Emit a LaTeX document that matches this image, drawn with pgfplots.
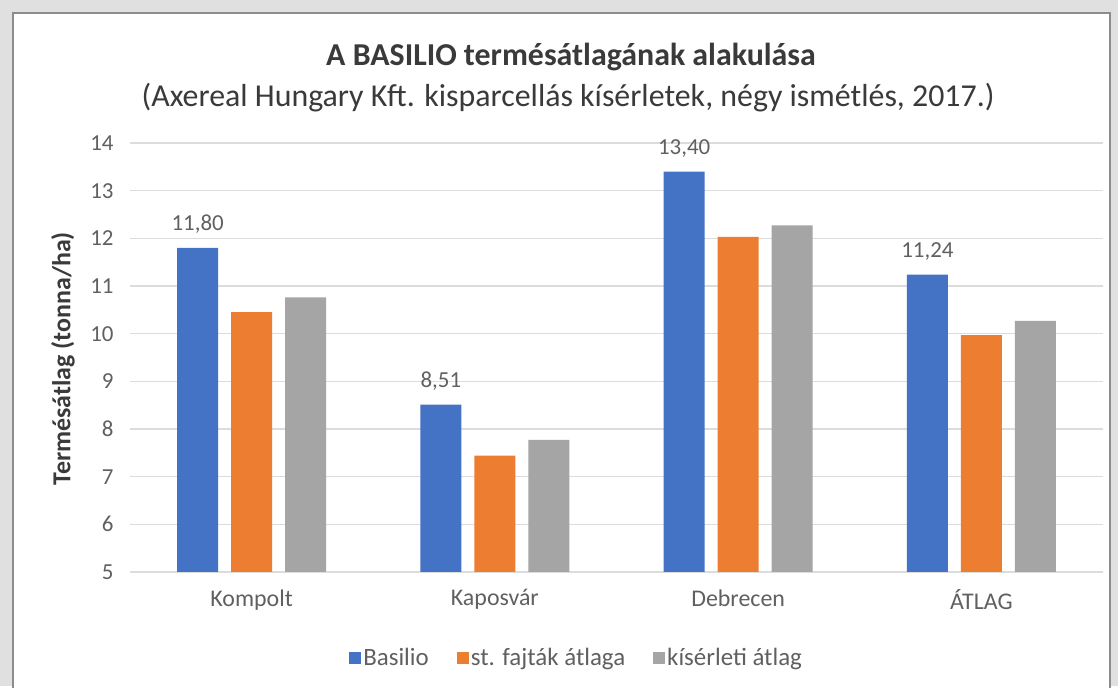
\documentclass[border=0pt]{standalone}
\usepackage{fontspec}
\setmainfont{Carlito}
\usepackage{pgfplots}
\pgfplotsset{compat=1.18}
\definecolor{cblue}{HTML}{4472C4}
\definecolor{corange}{HTML}{ED7D31}
\definecolor{cgray}{HTML}{A5A5A5}
\definecolor{ctext}{HTML}{606060}
\definecolor{ctitle}{HTML}{3A3A3A}
\definecolor{cgrid}{HTML}{DCDCDC}
\begin{document}
\begin{tikzpicture}[x=1bp,y=1bp]
\fill[black!12] (0,0) rectangle (1118,686);
\fill[white] (13,0) rectangle (1110,673);
\draw[black!45, line width=2.5bp] (13,-2) -- (13,673) -- (1110,673) -- (1110,-2);
\path[use as bounding box] (0,0) rectangle (1118,686);
\node[font=\fontsize{32}{36}\selectfont\bfseries, text=ctitle] at (571,629) {A BASILIO termésátlagának alakulása};
\node[font=\fontsize{32}{36}\selectfont, text=ctitle] at (568,588) {(Axereal Hungary Kft. kisparcellás kísérletek, négy ismétlés, 2017.)};
\begin{axis}[
  at={(130bp,114bp)}, anchor=south west,
  width=973bp, height=429bp, scale only axis,
  xmin=-0.5, xmax=3.5, ymin=5, ymax=14,
  ytick={5,6,...,14},
  xtick={0,1,2,3},
  xticklabels={Kompolt,Kaposvár,Debrecen,ÁTLAG},
  axis line style={draw=none},
  major tick length=0pt,
  ymajorgrids, grid style={cgrid, line width=1.2bp},
  ybar=13bp, bar width=41bp,
  /pgf/number format/assume math mode=true,
  yticklabel style={font=\fontsize{23}{23}\selectfont, text=ctext, xshift=-13bp},
  xticklabel style={font=\fontsize{24}{24}\selectfont, text=ctext, yshift=-14bp},
  ylabel={Termésátlag (tonna/ha)},
  ylabel style={at={(axis description cs:-0.069,0.497)}, anchor=center, font=\fontsize{26}{26}\selectfont\bfseries, text=ctitle},
  legend columns=3,
  legend style={at={(axis description cs:0.459,-0.2)}, anchor=center, draw=none, fill=none,
     font=\fontsize{25}{25}\selectfont, text=ctext,
     /tikz/every even column/.append style={column sep=26bp}},
  legend image code/.code={\fill[#1] (0bp,-6bp) rectangle (12bp,6bp);},
  nodes near coords style={font=\fontsize{23}{23}\selectfont, text=ctext, yshift=11bp},
]
\addplot[fill=cblue, draw=none, point meta=explicit symbolic, nodes near coords]
  coordinates {(0,11.80) [11,80] (1,8.51) [8,51] (2,13.40) [13,40] (3,11.24) [11,24]};
\addplot[fill=corange, draw=none] coordinates {(0,10.45) (1,7.44) (2,12.03) (3,9.97)};
\addplot[fill=cgray, draw=none] coordinates {(0,10.76) (1,7.77) (2,12.27) (3,10.27)};
\legend{Basilio, st. fajták átlaga, kísérleti átlag}
\end{axis}
\end{tikzpicture}
\end{document}
